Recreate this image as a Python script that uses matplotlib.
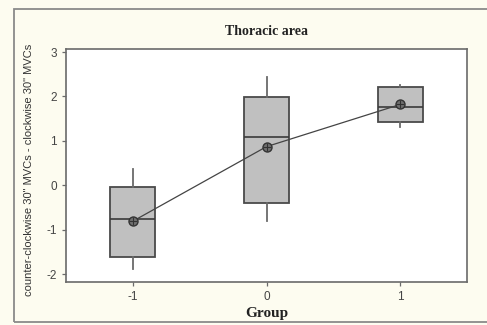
import matplotlib
matplotlib.use("Agg")
import matplotlib.pyplot as plt
import matplotlib.patches as mpatches

plt.rcParams["axes.unicode_minus"] = False

# values
groups = [-1, 0, 1]
q1 = [-1.62, -0.40, 1.43]
med = [-0.77, 1.08, 1.77]
q3 = [-0.05, 1.99, 2.22]
whislo = [-1.89, -0.81, 1.31]
whishi = [0.37, 2.44, 2.26]
means = [-0.81, 0.87, 1.82]

bg = "#fdfcf0"
fig = plt.figure(figsize=(4.87, 3.25), dpi=100, facecolor=bg)
ax = fig.add_axes([66 / 487, 1 - 282 / 325, 401 / 487, 233 / 325])
ax.set_facecolor("white")

# outer frame of the exported graph window
fig.patches.append(mpatches.Rectangle((14 / 487, 3 / 325), 1.0, 1 - 12 / 325,
                                      transform=fig.transFigure, fill=False,
                                      edgecolor="#8a8a8a", linewidth=1.3))

stats = []
for i in range(len(groups)):
    stats.append({"q1": q1[i], "med": med[i], "q3": q3[i],
                  "whislo": whislo[i], "whishi": whishi[i], "mean": means[i]})

ax.bxp(stats, positions=groups, widths=0.335, patch_artist=True,
       showcaps=False, showfliers=False, showmeans=False,
       boxprops=dict(facecolor="#c0c0c0", edgecolor="#4a4a4a", linewidth=1.3),
       medianprops=dict(color="#3a3a3a", linewidth=1.2),
       whiskerprops=dict(color="#6a6a6a", linewidth=1.3))

ax.plot(groups, means, color="#444444", linewidth=0.9, zorder=4)
ax.plot(groups, means, "o", markersize=6.5, markerfacecolor="#707070",
        markeredgecolor="#333333", markeredgewidth=1.0, zorder=5)
ax.plot(groups, means, "+", markersize=6, color="#333333",
        markeredgewidth=0.8, zorder=6)

ax.set_xlim(-1.5, 1.5)
ax.set_ylim(-2.18, 3.07)
ax.set_xticks(groups)
ax.set_xticklabels(["-1", "0", "1"])
ax.set_yticks([-2, -1, 0, 1, 2, 3])

for s in ax.spines.values():
    s.set_color("#6a6a6a")
    s.set_linewidth(1.2)
ax.tick_params(direction="out", length=3, width=0.9, color="#6a6a6a",
               labelsize=8.5, labelcolor="#444444")
for lab in ax.get_xticklabels() + ax.get_yticklabels():
    lab.set_family("Liberation Sans")

ax.set_title("Thoracic area", family="Liberation Serif", fontweight="bold",
             fontsize=10, pad=10, color="#222222")
ax.set_xlabel("Group", family="Liberation Serif", fontweight="bold",
              fontsize=11, labelpad=3, color="#222222")
ax.set_ylabel("counter-clockwise 30\" MVCs - clockwise 30\" MVCs",
              family="Liberation Sans", fontsize=8, color="#333333")
ax.yaxis.set_label_coords(-0.08, 0.48)

fig.savefig("out.png", dpi=100, facecolor=bg)
